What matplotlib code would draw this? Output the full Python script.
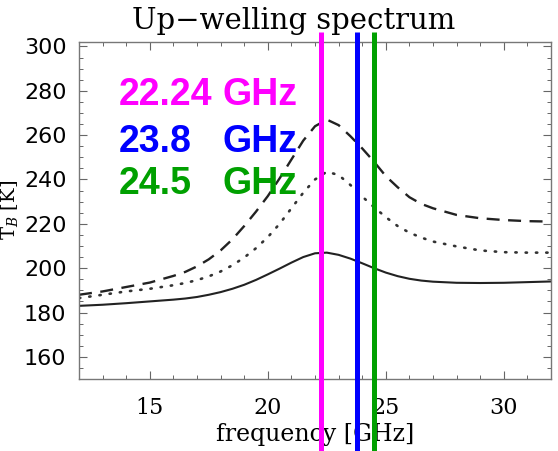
"""Up-welling brightness temperature spectrum around the 22 GHz water vapour line."""

import matplotlib

matplotlib.use("Agg")
import matplotlib.pyplot as plt
from matplotlib.ticker import MultipleLocator

FREQ = [12, 13, 14, 15, 16, 16.5, 17, 17.5, 18, 18.5, 19, 19.5, 20, 20.5, 21, 21.5,
        22, 22.5, 23, 23.5, 24, 24.5, 25, 25.5, 26, 26.5, 27, 28, 29, 30, 31, 32]
TB_SOLID = [183, 183.5, 184.2, 185, 185.8, 186.3, 187, 188, 189.2, 190.7, 192.5,
            194.7, 197.2, 199.8, 202.5, 205, 206.7, 207, 206, 204.3, 202.2, 200,
            198, 196.4, 195.2, 194.4, 193.9, 193.4, 193.3, 193.4, 193.7, 194]
TB_DOTTED = [186.5, 188, 189.5, 190.7, 192.3, 193.3, 194.6, 196.3, 198.5, 201.3,
             204.8, 209, 214, 220, 227, 234, 240, 243.5, 242, 237.5, 232.3, 227.5,
             223, 219, 216, 213.8, 212, 209.8, 208, 207.2, 207, 207]
TB_DASHED = [188, 189.5, 191.5, 193.5, 196.5, 198.3, 200.8, 204, 208, 213, 219,
             225.5, 232.5, 240.5, 249, 257.5, 264, 267, 264.5, 259.5, 254, 248,
             241.5, 236.5, 232, 229, 227, 224, 222.5, 221.7, 221.2, 221]

CHANNELS = [22.24, 23.8, 24.5]
CHANNEL_NUMS = ["22.24", "23.8", "24.5"]
CHANNEL_COLORS = ["#FF00FF", "#0000FF", "#00A000"]

SERIF = "DejaVu Serif"

plt.rcParams["mathtext.fontset"] = "dejavuserif"

fig = plt.figure(figsize=(5.58, 4.51), dpi=100)
ax = fig.add_axes([0.1416, 0.1596, 0.8459, 0.7473])

ax.plot(FREQ, TB_SOLID, color="#222222", lw=1.5, ls="-")
ax.plot(FREQ, TB_DOTTED, color="#333333", lw=1.9, ls=(0, (0.5, 3.4)), dash_capstyle="round")
ax.plot(FREQ, TB_DASHED, color="#222222", lw=1.7, ls=(0, (5.5, 3.6)))

for freq, color in zip(CHANNELS, CHANNEL_COLORS):
    ax.plot([freq, freq], [-0.215, 1.03], color=color, lw=3.6,
            transform=ax.get_xaxis_transform(), clip_on=False, zorder=5,
            solid_capstyle="butt")

for row, (num, color) in enumerate(zip(CHANNEL_NUMS, CHANNEL_COLORS)):
    y = [278, 257, 238][row]
    ax.text(13.7, y, num, color=color, fontsize=27, fontweight="bold",
            family="Liberation Sans", va="center", ha="left")
    ax.text(18.1, y, "GHz", color=color, fontsize=27, fontweight="bold",
            family="Liberation Sans", va="center", ha="left")

ax.set_xlim(12, 32)
ax.set_ylim(150, 302)
ax.xaxis.set_major_locator(MultipleLocator(5))
ax.xaxis.set_minor_locator(MultipleLocator(1))
ax.yaxis.set_major_locator(MultipleLocator(20))
ax.yaxis.set_minor_locator(MultipleLocator(5))
ax.tick_params(which="both", direction="in", top=True, right=True, color="#666666")
ax.tick_params(which="major", length=6, width=0.8)
ax.tick_params(which="minor", length=3, width=0.7)
ax.tick_params(axis="y", labelsize=16, pad=9)
ax.tick_params(axis="x", labelsize=16, pad=13)
for label in ax.get_xticklabels():
    label.set_family(SERIF)
for label in ax.get_yticklabels():
    label.set_family("DejaVu Sans")
for spine in ax.spines.values():
    spine.set_color("#777777")
    spine.set_linewidth(1.0)

ax.set_xlabel("frequency [GHz]", family=SERIF, fontsize=17, labelpad=3)
ax.set_title("Up\u2212welling spectrum", family=SERIF, fontsize=21, x=0.455, pad=9)
# The reference crops most of this label at the left edge; keep it just inside.
fig.text(9 / 558, 1 - 210 / 451, "T$_B$ [K]", family=SERIF, fontsize=14,
         rotation=90, ha="center", va="center")

fig.savefig("out.png", dpi=100)
